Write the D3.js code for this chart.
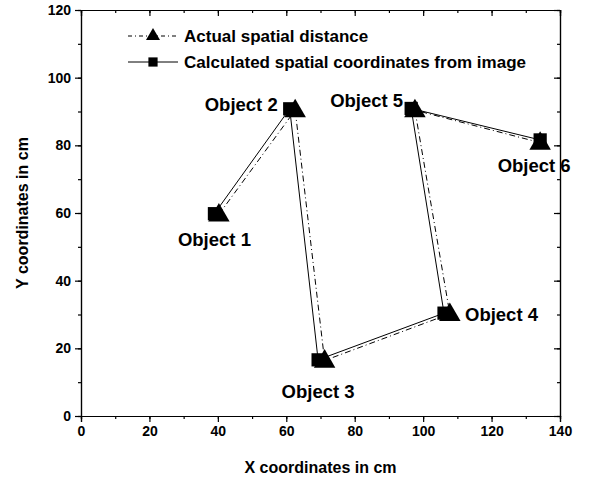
<!DOCTYPE html>
<html>
<head>
<meta charset="utf-8">
<script src="https://cdn.jsdelivr.net/npm/d3@7"></script>
<style>
  body { margin: 0; background: #fff; }
  text { font-family: "Liberation Sans", Arial, sans-serif; font-weight: bold; fill: #000; }
</style>
</head>
<body>
<svg id="chart" width="613" height="480"></svg>
<script>
const objects = ['Object 1', 'Object 2', 'Object 3', 'Object 4', 'Object 5', 'Object 6']
// actual spatial distance (triangles)
const actualX = [40.3, 62.6, 71.2, 107.8, 97.6, 134.2]
const actualY = [59.6, 90.4, 16.4, 30.2, 90.4, 80.8]
// calculated coordinates from image (squares)
const calcX = [39.0, 61.0, 69.3, 106.1, 96.5, 134.2]
const calcY = [59.8, 90.8, 16.6, 30.4, 90.9, 81.6]
const xTicks = [0, 20, 40, 60, 80, 100, 120, 140]
const yTicks = [0, 20, 40, 60, 80, 100, 120]
const seriesNames = ['Actual spatial distance', 'Calculated spatial coordinates from image']

const margin = { top: 10, left: 81, right: 53, bottom: 64 }
const width = 613
const height = 480
const svg = d3.select('#chart')

const x = d3.scaleLinear().domain([0, 140]).range([margin.left, width - margin.right])
const y = d3.scaleLinear().domain([0, 120]).range([height - margin.bottom, margin.top])

const minorX = d3.range(0, 141, 10)
const minorY = d3.range(0, 121, 10)

// bottom axis
const gx = svg.append('g')
  .attr('transform', `translate(0,${y(0)})`)
gx.call(d3.axisBottom(x).tickValues(minorX).tickSize(3).tickFormat(''))
gx.append('g').call(d3.axisBottom(x).tickValues(xTicks).tickSize(6).tickPadding(4))
// left axis
const gy = svg.append('g')
  .attr('transform', `translate(${x(0)},0)`)
gy.call(d3.axisLeft(y).tickValues(minorY).tickSize(3).tickFormat(''))
gy.append('g').call(d3.axisLeft(y).tickValues(yTicks).tickSize(6).tickPadding(4))
// top and right mirror, ticks inward
const gt = svg.append('g').attr('transform', `translate(0,${y(120)})`)
gt.call(d3.axisBottom(x).tickValues(minorX).tickSize(3).tickFormat(''))
gt.append('g').call(d3.axisBottom(x).tickValues(xTicks).tickSize(6).tickFormat(''))
const gr = svg.append('g').attr('transform', `translate(${x(140)},0)`)
gr.call(d3.axisLeft(y).tickValues(minorY).tickSize(3).tickFormat(''))
gr.append('g').call(d3.axisLeft(y).tickValues(yTicks).tickSize(6).tickFormat(''))

svg.selectAll('.domain').attr('stroke', '#000').attr('stroke-width', 1.2)
svg.selectAll('.tick line').attr('stroke', '#000').attr('stroke-width', 1.2)
svg.selectAll('.tick text')
  .attr('font-size', 14)
  .attr('font-family', '"Liberation Sans", Arial, sans-serif')
  .attr('font-weight', 'bold')

// axis titles
svg.append('text')
  .attr('x', x(70)).attr('y', 473)
  .attr('text-anchor', 'middle')
  .attr('font-size', 16)
  .text('X coordinates in cm')
svg.append('text')
  .attr('transform', `translate(28,${y(60)}) rotate(-90)`)
  .attr('text-anchor', 'middle')
  .attr('font-size', 16)
  .text('Y coordinates in cm')

const actual = actualX.map((v, i) => [v, actualY[i]])
const calc = calcX.map((v, i) => [v, calcY[i]])
const line = d3.line().x(d => x(d[0])).y(d => y(d[1]))

svg.append('path')
  .attr('d', line(actual))
  .attr('fill', 'none').attr('stroke', '#000').attr('stroke-width', 1)
  .attr('stroke-dasharray', '6,3,1,3')
svg.append('path')
  .attr('d', line(calc))
  .attr('fill', 'none').attr('stroke', '#000').attr('stroke-width', 1)

const tri = d3.symbol().type(d3.symbolTriangle).size(200)
const sq = d3.symbol().type(d3.symbolSquare).size(175)

svg.selectAll('.sq').data(calc).enter()
  .append('path').attr('class', 'sq')
  .attr('transform', d => `translate(${x(d[0])},${y(d[1])})`)
  .attr('d', sq).attr('fill', '#000')
svg.selectAll('.tri').data(actual).enter()
  .append('path').attr('class', 'tri')
  .attr('transform', d => `translate(${x(d[0])},${y(d[1]) + 1})`)
  .attr('d', tri).attr('fill', '#000')

// object labels
const labelPos = [
  { dx: 0, dy: 32, anchor: 'middle' },
  { dx: -12, dy: 2, anchor: 'end' },
  { dx: 0, dy: 38, anchor: 'middle' },
  { dx: 21, dy: 8, anchor: 'start' },
  { dx: -8, dy: -1, anchor: 'end' },
  { dx: -6, dy: 32, anchor: 'middle' }
]
svg.selectAll('.obj').data(objects).enter()
  .append('text').attr('class', 'obj')
  .attr('x', (d, i) => x(calcX[i]) + labelPos[i].dx)
  .attr('y', (d, i) => y(calcY[i]) + labelPos[i].dy)
  .attr('text-anchor', (d, i) => labelPos[i].anchor)
  .attr('font-size', 18.5)
  .text(d => d)

// legend
const legend = svg.append('g').attr('transform', 'translate(128,36)')
seriesNames.forEach((name, i) => {
  const g = legend.append('g').attr('transform', `translate(0,${i * 26})`)
  g.append('line').attr('x1', 0).attr('x2', 50).attr('y1', 0).attr('y2', 0)
    .attr('stroke', '#000').attr('stroke-width', 1)
    .attr('stroke-dasharray', i === 0 ? '4,3,1,3' : null)
  g.append('path')
    .attr('transform', 'translate(25,0)')
    .attr('d', d3.symbol().type(i === 0 ? d3.symbolTriangle : d3.symbolSquare).size(85))
    .attr('fill', '#000')
  g.append('text').attr('x', 56).attr('y', 6).attr('font-size', 17).text(name)
})
</script>
</body>
</html>
